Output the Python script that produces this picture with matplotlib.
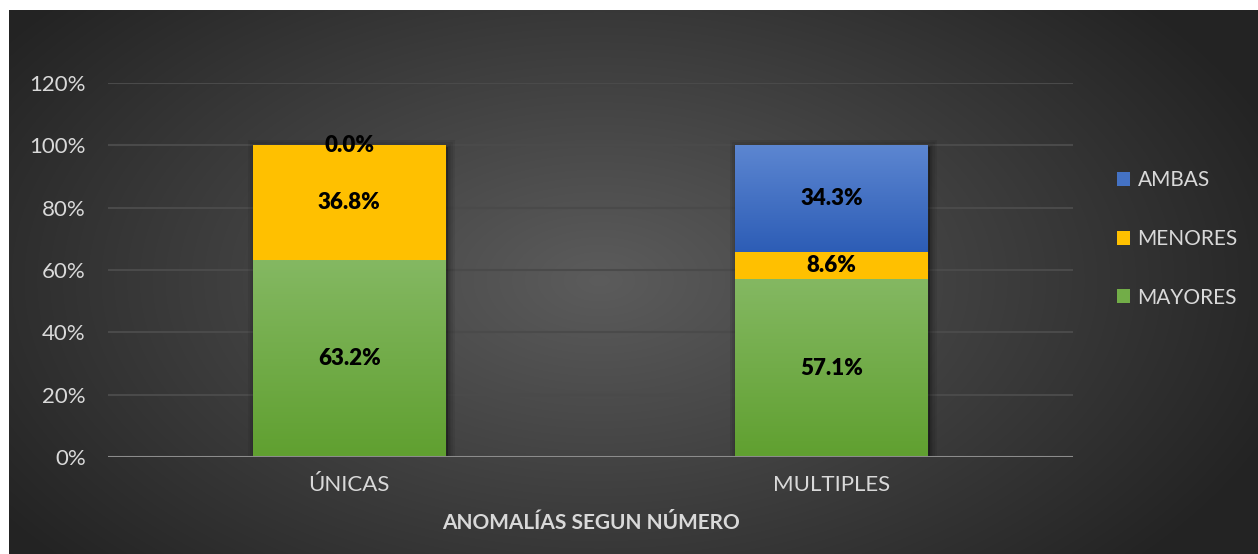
import matplotlib.pyplot as plt
import numpy as np
from matplotlib.colors import LinearSegmentedColormap
import matplotlib.patheffects as pe

categories = ['ÚNICAS', 'MULTIPLES']
mayores = [63.2, 57.1]
menores = [36.8, 8.6]
ambas = [0.0, 34.3]
yticks = [0, 20, 40, 60, 80, 100, 120]

W, H = 1258, 554
fig = plt.figure(figsize=(W / 100, H / 100), dpi=100)
fig.patch.set_facecolor('white')

# dark radial background, white strip on top and left
bg = fig.add_axes([9 / W, 0, 1 - 9 / W, 1 - 10 / H])
bg.set_axis_off()
yy, xx = np.mgrid[0:544, 0:1249]
cx, cy = 590, 270
r = np.sqrt(((xx - cx) / 720) ** 2 + ((yy - cy) / 420) ** 2)
r = np.clip(r, 0, 1)
g = 0.36 - (0.36 - 0.14) * r
bg.imshow(np.dstack([g, g, g]), aspect='auto', extent=[0, 1, 0, 1])
bg.set_xlim(0, 1)
bg.set_ylim(0, 1)

ax = fig.add_axes([108 / W, (H - 457) / H, 965 / W, (457 - 83) / H])
ax.patch.set_alpha(0)
x = np.arange(len(categories))
width = 0.4

green = '#72ad48'
yellow = '#ffc000'
blue = '#4472c4'

# soft shadow behind whole stacks
totals = [a + b + c for a, b, c in zip(mayores, menores, ambas)]
ax.bar(x, totals, width, color='black', zorder=2.5,
       path_effects=[pe.Stroke(linewidth=w, foreground='black', alpha=0.07, offset=(1.5, -1.5))
                     for w in (10, 7, 4, 2)])

b1 = ax.bar(x, mayores, width, color=green, label='MAYORES', zorder=3)
b2 = ax.bar(x, menores, width, bottom=mayores, color=yellow, label='MENORES', zorder=3)
bottom3 = [a + b for a, b in zip(mayores, menores)]
b3 = ax.bar(x, ambas, width, bottom=bottom3, color=blue, label='AMBAS', zorder=3)

grad_green = LinearSegmentedColormap.from_list('gg', ['#60a030', '#84b862'])
grad_blue = LinearSegmentedColormap.from_list('gb', ['#2d5db6', '#5c86d1'])
for bars, cmap in [(b1, grad_green), (b3, grad_blue)]:
    for p in bars:
        if p.get_height() <= 0:
            continue
        x0, y0 = p.get_x(), p.get_y()
        im = ax.imshow(np.linspace(0, 1, 100).reshape(-1, 1), cmap=cmap, origin='lower',
                       aspect='auto', extent=[x0, x0 + p.get_width(), y0, y0 + p.get_height()],
                       zorder=3.5)
        im.set_clip_path(p)

for bars in (b1, b2, b3):
    ax.bar_label(bars, fmt='%.1f%%', label_type='center', color='black',
                 fontsize=16, fontweight='heavy', family='Lato', zorder=5)

ax.set_xlim(-0.5, 1.5)
ax.set_ylim(0, 120)
ax.set_yticks(yticks)
ax.set_yticklabels([f'{v}%' for v in yticks])
ax.set_xticks(x)
ax.set_xticklabels(categories)
ax.tick_params(length=0, colors='#d9d9d9', labelsize=16)
for lab in ax.get_xticklabels() + ax.get_yticklabels():
    lab.set_family('Lato')
ax.tick_params(axis='y', pad=16)
ax.tick_params(axis='x', pad=13)
ax.grid(axis='y', color='#4a4a4a', linewidth=1.5, zorder=0)
for s in ax.spines.values():
    s.set_visible(False)
ax.axhline(0, color='#8c8c8c', linewidth=2.2, zorder=4)

ax.set_xlabel('ANOMALÍAS SEGUN NÚMERO', color='#d9d9d9', fontsize=15,
              fontweight='bold', family='Lato', labelpad=13)

h, l = ax.get_legend_handles_labels()
leg = fig.legend(h[::-1], l[::-1], loc='center left', bbox_to_anchor=(1098 / W, (H - 239) / H),
                 frameon=False, handlelength=0.65, handleheight=0.65, handletextpad=0.35,
                 labelspacing=1.85, prop={'family': 'Lato', 'size': 15})
for t in leg.get_texts():
    t.set_color('#d9d9d9')

fig.savefig('out.png', dpi=100)
